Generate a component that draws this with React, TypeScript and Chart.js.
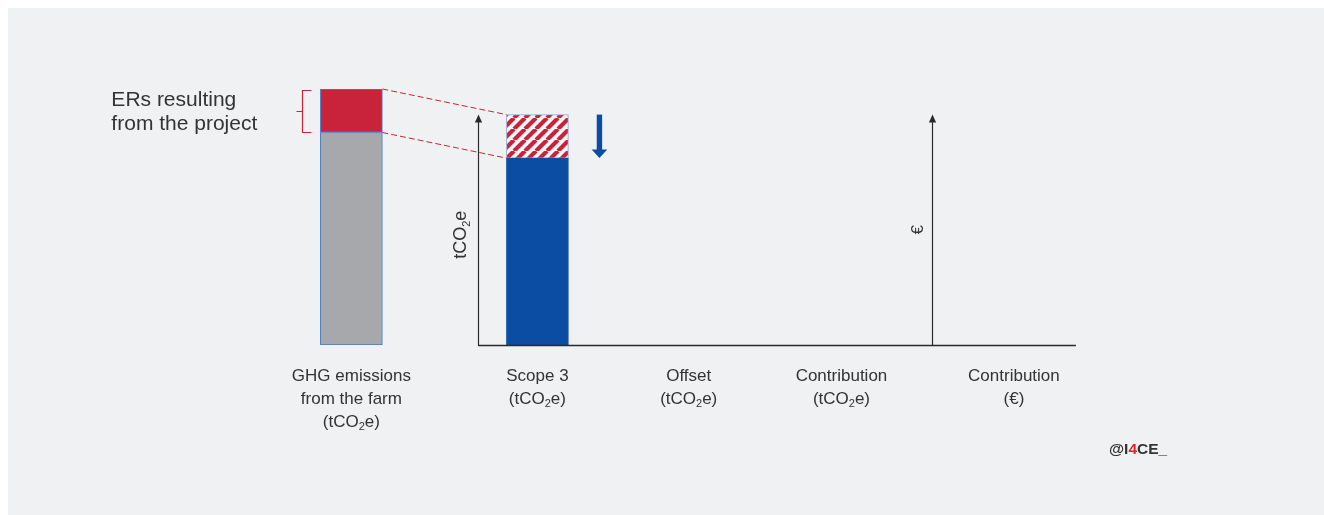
import { useEffect, useRef } from "react";
import { Chart, registerables } from "chart.js";

Chart.register(...registerables);

// ---- data ----
const categories: string[][] = [
  ["GHG emissions", "from the farm", "(tCO₂e)"],
  ["Scope 3", "(tCO₂e)"],
  ["Offset", "(tCO₂e)"],
  ["Contribution", "(tCO₂e)"],
  ["Contribution", "(€)"],
];
const categoryX = [-0.23, 1, 2, 3.01, 4.15];
const remainingEmissions: (number | null)[] = [83, 73, null, null, null];
const emissionReductions: (number | null)[] = [17, 17, null, null, null];
const tonnesAxisX = 0.61;
const euroAxisX = 3.607;
const axisEndX = 4.56;
const axisTop = 90;
const reductionArrowX = 1.41;
const annotationLines = ["ERs resulting", "from the project"];
const yAxisTitle = "tCO₂e";
const euroAxisTitle = "€";

// ---- styles ----
const FONT = '"Liberation Sans", Arial, Helvetica, sans-serif';
const GRAY = "#A7A8AB";
const RED = "#C8233B";
const BLUE = "#0B4DA2";
const FARM_BORDER = "#4A78BD";
const HATCH_BORDER = "#8EA9D5";
const TEXT = "#333333";
const AXIS = "#2a2a2a";
const PANEL = "#F0F1F3";

function makeHatch(ctx: CanvasRenderingContext2D): CanvasPattern | string {
  const s = 11;
  const c = document.createElement("canvas");
  c.width = s;
  c.height = s;
  const g = c.getContext("2d");
  if (!g) return RED;
  g.fillStyle = "#F7F7F8";
  g.fillRect(0, 0, s, s);
  g.strokeStyle = RED;
  g.lineWidth = 4.2;
  g.beginPath();
  for (const k of [-1, 0, 1]) {
    g.moveTo(k * s, s);
    g.lineTo(k * s + s, 0);
  }
  g.stroke();
  return ctx.createPattern(c, "repeat") || RED;
}

function drawRich(
  ctx: CanvasRenderingContext2D,
  text: string,
  x: number,
  y: number,
  size: number,
  align: "center" | "left",
  color: string,
  weight = "normal"
) {
  const parts = text.split("₂");
  const main = `${weight} ${size}px ${FONT}`;
  const sub = `${weight} ${Math.round(size * 0.62)}px ${FONT}`;
  ctx.font = sub;
  const subW = ctx.measureText("2").width;
  ctx.font = main;
  let total = 0;
  parts.forEach((p) => (total += ctx.measureText(p).width));
  total += (parts.length - 1) * subW;
  let cx = align === "center" ? x - total / 2 : x;
  ctx.fillStyle = color;
  ctx.textAlign = "left";
  ctx.textBaseline = "middle";
  parts.forEach((p, i) => {
    ctx.font = main;
    ctx.fillText(p, cx, y);
    cx += ctx.measureText(p).width;
    if (i < parts.length - 1) {
      ctx.font = sub;
      ctx.fillText("2", cx, y + size * 0.32);
      cx += subW;
    }
  });
}

function upArrowAxis(ctx: CanvasRenderingContext2D, x: number, y0: number, y1: number) {
  const px = Math.round(x) + 0.5;
  ctx.strokeStyle = AXIS;
  ctx.lineWidth = 1.2;
  ctx.beginPath();
  ctx.moveTo(px, y0);
  ctx.lineTo(px, y1 + 6);
  ctx.stroke();
  ctx.fillStyle = AXIS;
  ctx.beginPath();
  ctx.moveTo(px, y1);
  ctx.lineTo(px - 3.6, y1 + 8);
  ctx.lineTo(px + 3.6, y1 + 8);
  ctx.closePath();
  ctx.fill();
}

const annotations = {
  id: "annotations",
  afterDatasetsDraw(chart: any) {
    const ctx: CanvasRenderingContext2D = chart.ctx;
    const xs = chart.scales.x;
    const ys = chart.scales.y;
    const area = chart.chartArea;
    const y0 = ys.getPixelForValue(0);
    const yTop = ys.getPixelForValue(axisTop);
    ctx.save();

    // axes
    upArrowAxis(ctx, xs.getPixelForValue(tonnesAxisX), y0, yTop);
    upArrowAxis(ctx, xs.getPixelForValue(euroAxisX), y0, yTop);
    ctx.strokeStyle = AXIS;
    ctx.lineWidth = 1.3;
    ctx.beginPath();
    ctx.moveTo(Math.round(xs.getPixelForValue(tonnesAxisX)), Math.round(y0) + 0.5);
    ctx.lineTo(xs.getPixelForValue(axisEndX), Math.round(y0) + 0.5);
    ctx.stroke();

    // axis titles
    const midY = (y0 + yTop) / 2;
    ctx.save();
    ctx.translate(xs.getPixelForValue(tonnesAxisX) - 17, midY + 5);
    ctx.rotate(-Math.PI / 2);
    drawRich(ctx, yAxisTitle, 0, 0, 18, "center", TEXT);
    ctx.restore();
    ctx.save();
    ctx.translate(xs.getPixelForValue(euroAxisX) - 13, midY);
    ctx.rotate(-Math.PI / 2);
    drawRich(ctx, euroAxisTitle, 0, 0, 17, "center", TEXT);
    ctx.restore();

    // dashed connectors between the ER segments
    const ers = chart.getDatasetMeta(1).data;
    const farm = ers[0];
    const scope = ers[1];
    if (farm && scope) {
      const fr = farm.x + farm.width / 2;
      const sl = scope.x - scope.width / 2;
      ctx.strokeStyle = RED;
      ctx.lineWidth = 1;
      ctx.setLineDash([6, 3]);
      ctx.beginPath();
      ctx.moveTo(fr, farm.y);
      ctx.lineTo(sl, scope.y);
      ctx.moveTo(fr, farm.base);
      ctx.lineTo(sl, scope.base);
      ctx.stroke();
      ctx.setLineDash([]);

      // bracket
      const bx = Math.round(farm.x - farm.width / 2 - 18) + 0.5;
      const top = farm.y + 1.5;
      const bot = farm.base;
      const mid = (top + bot) / 2;
      ctx.strokeStyle = RED;
      ctx.lineWidth = 1.2;
      ctx.beginPath();
      ctx.moveTo(bx + 9, top);
      ctx.lineTo(bx, top);
      ctx.lineTo(bx, bot);
      ctx.lineTo(bx + 9, bot);
      ctx.moveTo(bx - 6, mid);
      ctx.lineTo(bx, mid);
      ctx.stroke();

      // annotation text
      const tx = farm.x - farm.width / 2 - 209;
      annotationLines.forEach((line, i) => {
        drawRich(ctx, line, tx, mid - 11 + i * 24, 21, "left", TEXT);
      });

      // reduction arrow
      const ax = xs.getPixelForValue(reductionArrowX);
      const aTop = ys.getPixelForValue(axisTop);
      const aTip = scope.base;
      ctx.fillStyle = BLUE;
      ctx.fillRect(ax - 2.7, aTop, 5.4, aTip - aTop - 7);
      ctx.beginPath();
      ctx.moveTo(ax - 7.8, aTip - 8.5);
      ctx.lineTo(ax + 7.8, aTip - 8.5);
      ctx.lineTo(ax, aTip);
      ctx.closePath();
      ctx.fill();
    }

    // category labels
    categories.forEach((lines, i) => {
      const cx = xs.getPixelForValue(categoryX[i]);
      lines.forEach((line, j) => {
        drawRich(ctx, line, cx, area.bottom + 31 + j * 23, 17, "center", TEXT);
      });
    });

    // watermark
    const wx = chart.width - 215;
    const wy = area.bottom + 105;
    const wm = `bold 15.5px ${FONT}`;
    ctx.font = wm;
    ctx.textAlign = "left";
    ctx.textBaseline = "middle";
    let cx = wx;
    [["@I", TEXT], ["4", "#E3202B"], ["CE_", TEXT]].forEach(([t, c]) => {
      ctx.fillStyle = c;
      ctx.fillText(t, cx, wy);
      cx += ctx.measureText(t).width;
    });

    ctx.restore();
  },
};

export default function App() {
  const ref = useRef<HTMLCanvasElement | null>(null);
  useEffect(() => {
    const canvas = ref.current;
    if (!canvas) return;
    const ctx = canvas.getContext("2d");
    if (!ctx) return;
    const hatch = makeHatch(ctx);
    const chart = new Chart(canvas, {
      type: "bar",
      data: {
        datasets: [
          {
            label: "Remaining emissions",
            data: categoryX.map((x, i) => ({ x, y: remainingEmissions[i] })) as any,
            backgroundColor: [GRAY, BLUE],
            borderColor: [FARM_BORDER, BLUE],
            borderWidth: 1,
            borderSkipped: false,
            barThickness: 62,
            stack: "s",
          },
          {
            label: "ERs resulting from the project",
            data: categoryX.map((x, i) => ({ x, y: emissionReductions[i] })) as any,
            backgroundColor: [RED, hatch as any],
            borderColor: [FARM_BORDER, HATCH_BORDER],
            borderWidth: 1,
            borderSkipped: false,
            barThickness: 62,
            stack: "s",
          },
        ],
      },
      options: {
        animation: false,
        responsive: false,
        events: [],
        layout: { padding: { top: 81, bottom: 170, left: 0, right: 0 } },
        plugins: { legend: { display: false }, tooltip: { enabled: false } },
        scales: {
          x: { type: "linear", min: -2.5, max: 6.2, display: false, offset: false, stacked: true },
          y: { min: 0, max: 100, display: false, stacked: true },
        },
      },
      plugins: [annotations],
    });
    return () => chart.destroy();
  }, []);
  return (
    <div style={{ position: "absolute", left: 8, top: 8, width: 1316, height: 507, background: PANEL }}>
      <canvas ref={ref} width={1316} height={507} style={{ display: "block" }} />
    </div>
  );
}
